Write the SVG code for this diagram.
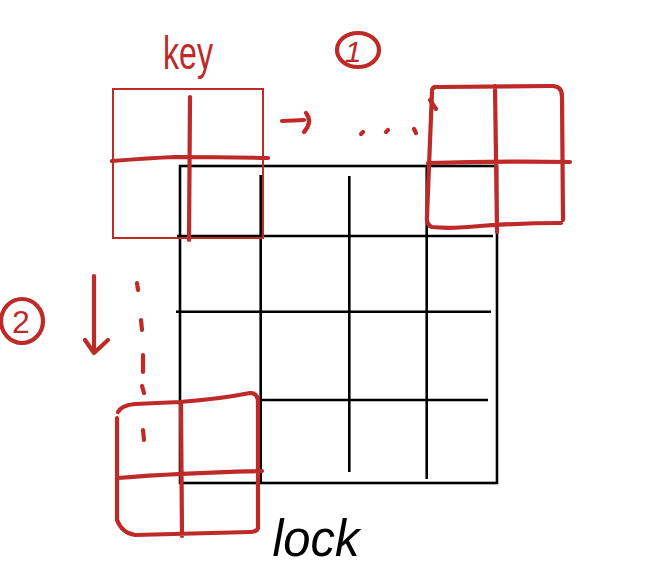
<svg xmlns="http://www.w3.org/2000/svg" width="656" height="588" viewBox="0 0 656 588">
<style>
.blk{fill:none;stroke:#000;stroke-width:2.6;stroke-linecap:butt}
.red{fill:none;stroke:#bd2a27;stroke-width:4.2;stroke-linecap:round;stroke-linejoin:round}
.redthin{fill:none;stroke:#bd2a27;stroke-width:2}
.rt{fill:#bd2a27;font-family:"Liberation Sans",Arial,sans-serif}
.bt{fill:#000;font-family:"Liberation Sans",Arial,sans-serif}
</style>
<rect width="656" height="588" fill="#fff"/>
<g id="lock">
<rect class="blk" x="180" y="166" width="317" height="317"/>
<path class="blk" d="M260.7 175 V483 M349.3 176 V472 M426.7 166 V479 M177 236 H493 M176 311.7 H491 M258 400 H488"/>
</g>
<g id="key">
<rect class="redthin" x="113" y="89" width="150" height="149"/>
<path class="red" d="M190 97 L189 240 M112 161 Q150 158 175 157 Q220 157 268 158"/>
</g>
<g id="position-right">
<path class="red" d="M432 90 Q433 86 438 87 L552 86 Q562 86 562 96 L563 220 M561 223 Q520 223 480 226 Q450 229 432 227 Q426 225 427 216 L432 92 M495 86 L497 232 M428 163 Q500 161 570 162"/>
</g>
<g id="position-down">
<path class="red" d="M118 412 Q122 405 135 404 L180 402 Q220 399 250 393 Q258 393 258 402 L258 528 Q257 532 250 532 L135 535 Q122 533 117 520 L117 418 M181 402 L182 536 M118 478 Q180 473 262 471"/>
</g>
<g id="connectors">
<path class="red" stroke-width="3" d="M282 121 L304 120 M306 113 Q313 122 304 132"/>
<path class="red" stroke-width="2.5" d="M361 134 L363 132 M386 132 L388 130 M414 129 L416 133 M430 100 L436 109"/>
<path class="red" stroke-width="3" d="M94 276 L94 353 M85 340 L94 353 L108 340"/>
<path class="red" stroke-width="1.8" d="M137 283 L138 290 M141 320 L142 330 M143 355 L143 372 M142 386 L144 393 M143 430 L144 440"/>
</g>
<g id="labels">
<text class="rt" x="188" y="69" font-size="46" text-anchor="middle" textLength="50" lengthAdjust="spacingAndGlyphs">key</text>
<ellipse class="red" stroke-width="3" cx="358" cy="50" rx="21" ry="17"/>
<text class="rt" x="353" y="62" font-size="30" font-style="italic" text-anchor="middle">1</text>
<ellipse class="red" stroke-width="3" cx="22" cy="321" rx="21" ry="22"/>
<text class="rt" x="21" y="333" font-size="32" text-anchor="middle">2</text>
<text class="bt" x="316" y="556" font-size="52" font-style="italic" text-anchor="middle" textLength="87" lengthAdjust="spacingAndGlyphs">lock</text>
</g>
</svg>
